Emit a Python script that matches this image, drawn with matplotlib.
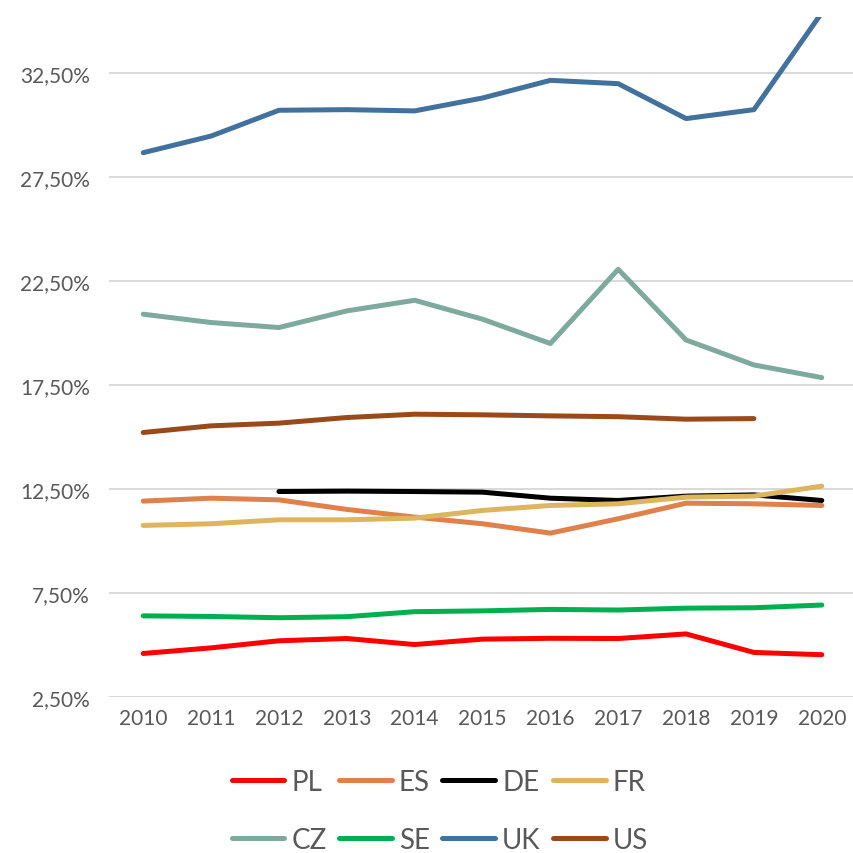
import numpy as np
import matplotlib
matplotlib.use("Agg")
import matplotlib.pyplot as plt
from matplotlib.ticker import FuncFormatter

years = [2010, 2011, 2012, 2013, 2014, 2015, 2016, 2017, 2018, 2019, 2020]

pl = [4.58, 4.85, 5.19, 5.30, 5.01, 5.27, 5.31, 5.30, 5.52, 4.63, 4.52]
es = [11.91, 12.05, 11.97, 11.51, 11.14, 10.82, 10.37, 11.06, 11.81, 11.78, 11.70]
de = [None, None, 12.37, 12.39, 12.37, 12.34, 12.05, 11.94, 12.15, 12.21, 11.94]
fr = [10.74, 10.82, 11.01, 11.01, 11.09, 11.46, 11.70, 11.78, 12.10, 12.15, 12.63]
cz = [20.90, 20.50, 20.26, 21.06, 21.57, 20.66, 19.49, 23.06, 19.66, 18.46, 17.85]
se = [6.39, 6.36, 6.30, 6.35, 6.59, 6.63, 6.70, 6.67, 6.76, 6.78, 6.91]
uk = [28.67, 29.47, 30.71, 30.74, 30.68, 31.30, 32.15, 31.99, 30.31, 30.74, 35.40]
us = [15.21, 15.53, 15.66, 15.93, 16.09, 16.06, 16.01, 15.97, 15.85, 15.88, None]

series = [
    ("PL", pl, "#FF0000"),
    ("ES", es, "#E0804A"),
    ("DE", de, "#000000"),
    ("FR", fr, "#DDB55F"),
    ("CZ", cz, "#7DAA9C"),
    ("SE", se, "#00B050"),
    ("UK", uk, "#41719C"),
    ("US", us, "#9A4A1A"),
]

plt.rcParams['font.family'] = ['Lato', 'DejaVu Sans']

fig = plt.figure(figsize=(8.54, 8.54), dpi=100)
ax = fig.add_axes([0.128, 0.183, 0.874, 0.796])

x = np.arange(len(years))
lines = []
for name, vals, col in series:
    y = np.array([np.nan if v is None else v for v in vals], dtype=float)
    ln, = ax.plot(x, y, color=col, lw=3.6, label=name, solid_capstyle='round',
                  solid_joinstyle='round')
    lines.append(ln)

ax.set_xlim(-0.5, len(years) - 0.5)
ax.set_ylim(2.5, 35.2)
ax.set_yticks([2.5, 7.5, 12.5, 17.5, 22.5, 27.5, 32.5])
ax.yaxis.set_major_formatter(FuncFormatter(lambda v, p: f"{v:.2f}%".replace(".", ",")))
ax.set_xticks(x)
ax.set_xticklabels([str(yv) for yv in years])
ax.tick_params(length=0, labelsize=15, colors="#595959", pad=8)
ax.tick_params(axis='y', pad=14)
ax.grid(axis='y', color="#D9D9D9", lw=1.4)
ax.set_axisbelow(True)
for s in ax.spines.values():
    s.set_visible(False)

# legend fills column-wise, so interleave the two rows
order = [0, 4, 1, 5, 2, 6, 3, 7]
fig.legend([lines[i] for i in order], [series[i][0] for i in order],
           loc="center", bbox_to_anchor=(0.515, 0.049), ncol=4, frameon=False,
           fontsize=20, handlelength=1.9, handletextpad=0.25, columnspacing=0.45,
           labelspacing=1.15, labelcolor="#595959")

fig.savefig("out.png", dpi=100)
